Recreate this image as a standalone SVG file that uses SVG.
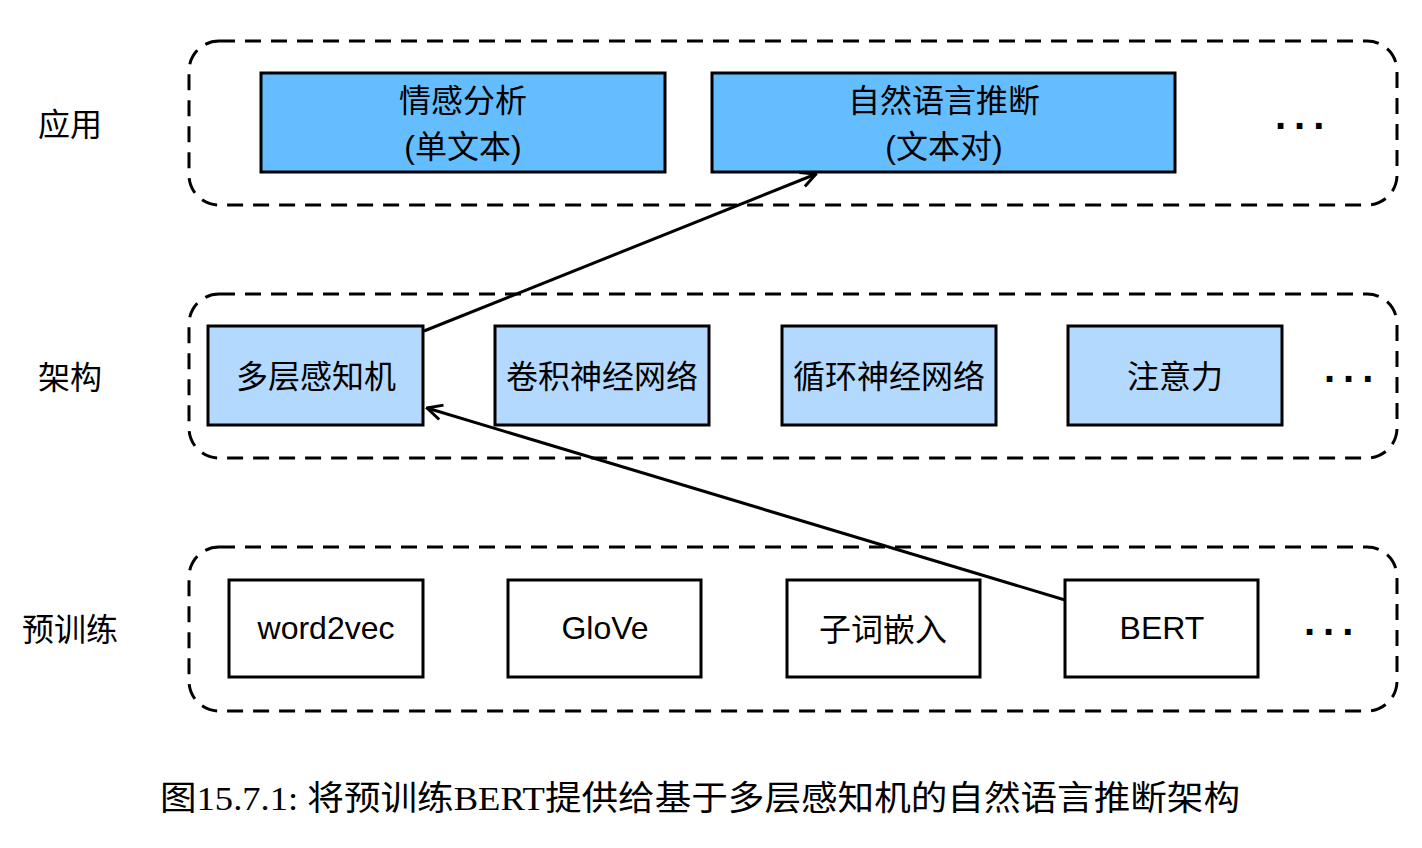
<svg xmlns="http://www.w3.org/2000/svg" width="1422" height="848" viewBox="0 0 1422 848">
<defs>
<style>
.grp{fill:none;stroke:#000;stroke-width:3;stroke-dasharray:16 10}
.app{fill:#64bdff;stroke:#000;stroke-width:3}
.arch{fill:#b3d9ff;stroke:#000;stroke-width:3}
.pre{fill:#fff;stroke:#000;stroke-width:3}
.t{font-family:"Liberation Sans","Noto Sans CJK SC",sans-serif;font-size:32px;fill:#000;text-anchor:middle}
.lbl{font-family:"Liberation Sans","Noto Sans CJK SC",sans-serif;font-size:32px;fill:#000;text-anchor:middle}
.dots{font-family:"Liberation Sans",sans-serif;font-size:40px;font-weight:bold;letter-spacing:8px;fill:#000}
.cap{font-family:"Liberation Serif","Noto Sans CJK SC",serif;font-size:34px;fill:#000}
.edge{fill:none;stroke:#000;stroke-width:3}
</style>
<marker id="ah" viewBox="0 0 12 12" refX="11" refY="6" markerWidth="6" markerHeight="6" orient="auto" markerUnits="strokeWidth">
<path d="M1,1 L11,6 L1,11" fill="none" stroke="#000" stroke-width="2"/>
</marker>
</defs>
<g id="containers">
<rect class="grp" x="189" y="41" width="1208" height="164" rx="30"/>
<rect class="grp" x="189" y="294" width="1208" height="164" rx="30"/>
<rect class="grp" x="189" y="547" width="1208" height="164" rx="30"/>
</g>
<g id="row-labels">
<text class="lbl" x="70" y="136">应用</text>
<text class="lbl" x="70" y="389">架构</text>
<text class="lbl" x="70" y="641">预训练</text>
</g>
<g id="node-sentiment">
<rect class="app" x="261" y="73" width="404" height="99"/>
<text class="t" x="463" y="112">情感分析</text>
<text class="t" x="463" y="158">(单文本)</text>
</g>
<g id="node-nli">
<rect class="app" x="712" y="73" width="463" height="99"/>
<text class="t" x="944" y="112">自然语言推断</text>
<text class="t" x="944" y="158">(文本对)</text>
</g>
<g id="dots-app"><text class="dots" x="1275" y="129">...</text></g>
<g id="node-mlp">
<rect class="arch" x="208" y="326" width="215" height="99"/>
<text class="t" x="316" y="388">多层感知机</text>
</g>
<g id="node-cnn">
<rect class="arch" x="495" y="326" width="214" height="99"/>
<text class="t" x="602" y="388">卷积神经网络</text>
</g>
<g id="node-rnn">
<rect class="arch" x="782" y="326" width="214" height="99"/>
<text class="t" x="889" y="388">循环神经网络</text>
</g>
<g id="node-attn">
<rect class="arch" x="1068" y="326" width="214" height="99"/>
<text class="t" x="1175" y="388">注意力</text>
</g>
<g id="dots-arch"><text class="dots" x="1324" y="382">...</text></g>
<g id="node-word2vec">
<rect class="pre" x="229" y="580" width="194" height="97"/>
<text class="t" x="326" y="639">word2vec</text>
</g>
<g id="node-glove">
<rect class="pre" x="508" y="580" width="193" height="97"/>
<text class="t" x="605" y="639">GloVe</text>
</g>
<g id="node-subword">
<rect class="pre" x="787" y="580" width="193" height="97"/>
<text class="t" x="883" y="641">子词嵌入</text>
</g>
<g id="node-bert">
<rect class="pre" x="1065" y="580" width="193" height="97"/>
<text class="t" x="1162" y="639">BERT</text>
</g>
<g id="dots-pre"><text class="dots" x="1304" y="635">...</text></g>
<g id="connectors">
<path class="edge" d="M424,331 L816,174" marker-end="url(#ah)"/>
<path class="edge" d="M1065,600 L427,408" marker-end="url(#ah)"/>
</g>
<g id="caption">
<text class="cap" x="160" y="810" textLength="1080" lengthAdjust="spacingAndGlyphs">图15.7.1: 将预训练BERT提供给基于多层感知机的自然语言推断架构</text>
</g>
</svg>
